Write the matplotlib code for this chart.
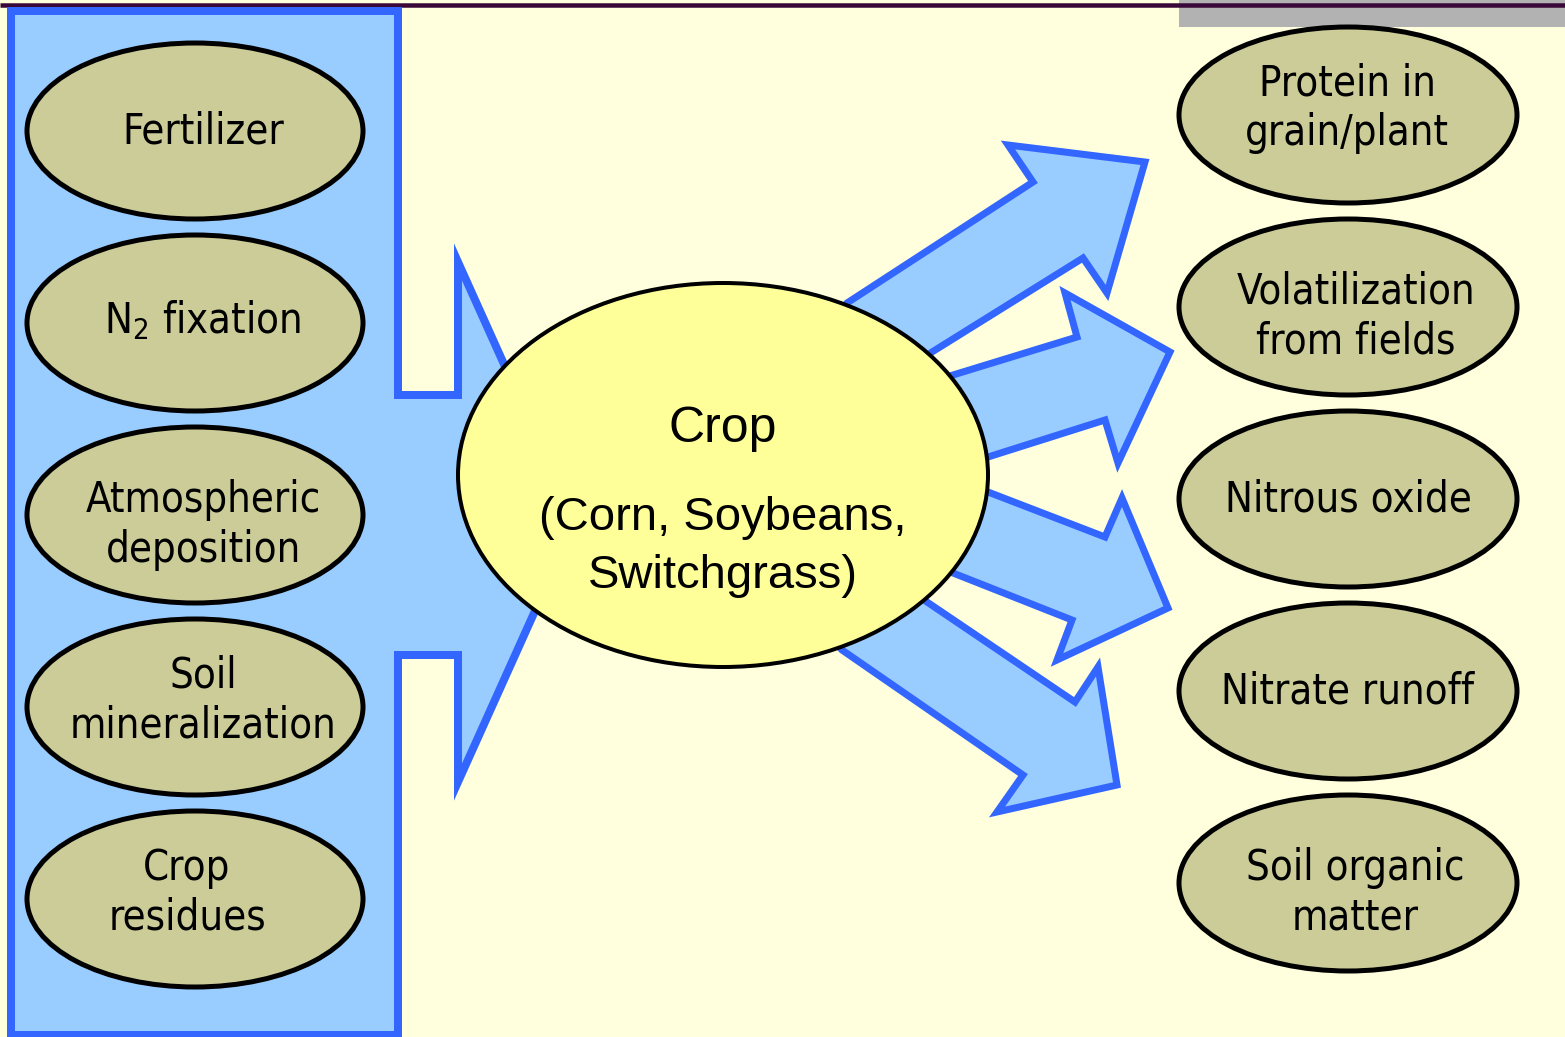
import matplotlib
matplotlib.use("Agg")
import matplotlib.pyplot as plt
from matplotlib.patches import Ellipse, Polygon, Rectangle

# ---- content ----
input_labels = ["Fertilizer", r"N$_\mathregular{2}$ fixation", "Atmospheric\ndeposition",
                "Soil\nmineralization", "Crop\nresidues"]
output_labels = ["Protein in\ngrain/plant", "Volatilization\nfrom fields", "Nitrous oxide",
                 "Nitrate runoff", "Soil organic\nmatter"]
crop_title = "Crop"
crop_subtitle = "(Corn, Soybeans,\nSwitchgrass)"

# ---- layout (pixel coordinates) ----
W, H = 1565, 1037
BG = "#ffffdd"
NODE_FILL = "#cccc99"
CROP_FILL = "#ffff99"
ARROW_FILL = "#99ccff"
ARROW_EDGE = "#3366ff"

left_cx, left_cy0, node_w, node_h, node_step = 195, 131, 336, 176, 192
right_cx, right_cy0 = 1348, 115
left_text_x = [203, 203, 203, 203, 187]
right_text_x = [1347, 1356, 1348, 1348, 1355]
left_baselines = [[144], [333], [512, 562], [688, 738], [880, 930]]
right_baselines = [[95, 145], [303, 353], [512], [704], [880, 930]]

input_shape = [(11, 11), (398, 11), (398, 395), (458, 395), (458, 262), (575, 522),
               (458, 782), (458, 655), (398, 655), (398, 1035), (11, 1035)]

out_arrows = [
    [(760, 400), (847, 303), (1033, 182), (1008, 145), (1145, 162), (1107, 293), (1083, 258), (932, 352), (800, 450)],
    [(800, 420), (953, 375), (1077, 337), (1065, 293), (1170, 352), (1118, 463), (1105, 420), (988, 457), (820, 480)],
    [(820, 470), (988, 492), (1105, 537), (1122, 498), (1168, 608), (1057, 660), (1072, 620), (953, 573), (800, 520)],
    [(800, 520), (927, 602), (1075, 702), (1098, 667), (1117, 785), (997, 812), (1023, 775), (842, 650), (760, 560)],
]

NODE_FONT = dict(fontsize=30, family="DejaVu Sans", fontstretch="condensed", color="black")

fig = plt.figure(figsize=(W / 100, H / 100), dpi=100)
fig.patch.set_facecolor(BG)
ax = fig.add_axes([0, 0, 1, 1])
ax.set_xlim(0, W)
ax.set_ylim(H, 0)
ax.axis("off")
ax.set_facecolor(BG)

px = 72 / 100  # points per pixel

# header decorations
ax.add_patch(Rectangle((1179, 0), W - 1179, 27, facecolor="#b2b2b2", edgecolor="none", zorder=1))
ax.plot([0, W], [5, 5], color="#3a0838", lw=4.5 * px, solid_capstyle="butt", zorder=2)

# input block arrow
ax.add_patch(Polygon(input_shape, closed=True, facecolor=ARROW_FILL, edgecolor=ARROW_EDGE,
                     lw=8 * px, joinstyle="miter", zorder=3))

# input nodes
for i, lab in enumerate(input_labels):
    cy = left_cy0 + i * node_step
    ax.add_patch(Ellipse((left_cx, cy), node_w, node_h, facecolor=NODE_FILL,
                         edgecolor="black", lw=5 * px, zorder=4))
    for ln, by in zip(lab.split("\n"), left_baselines[i]):
        ax.text(left_text_x[i], by, ln, ha="center", va="baseline", zorder=10, **NODE_FONT)

# output arrows
for pts in out_arrows:
    ax.add_patch(Polygon(pts, closed=True, facecolor=ARROW_FILL, edgecolor=ARROW_EDGE,
                         lw=7 * px, joinstyle="miter", zorder=5))

# crop node
ax.add_patch(Ellipse((723, 475), 530, 384, facecolor=CROP_FILL, edgecolor="black",
                     lw=4 * px, zorder=6))
ax.text(723, 442, crop_title, ha="center", va="baseline", fontsize=36,
        family="Liberation Sans", zorder=10)
for ln, by in zip(crop_subtitle.split("\n"), [530, 588]):
    ax.text(723, by, ln, ha="center", va="baseline", fontsize=34,
            family="Liberation Sans", zorder=10)

# output nodes
for i, lab in enumerate(output_labels):
    cy = right_cy0 + i * node_step
    ax.add_patch(Ellipse((right_cx, cy), 338, node_h, facecolor=NODE_FILL,
                         edgecolor="black", lw=5 * px, zorder=7))
    for ln, by in zip(lab.split("\n"), right_baselines[i]):
        ax.text(right_text_x[i], by, ln, ha="center", va="baseline", zorder=10, **NODE_FONT)

fig.savefig("out.png", dpi=100, facecolor=BG)
